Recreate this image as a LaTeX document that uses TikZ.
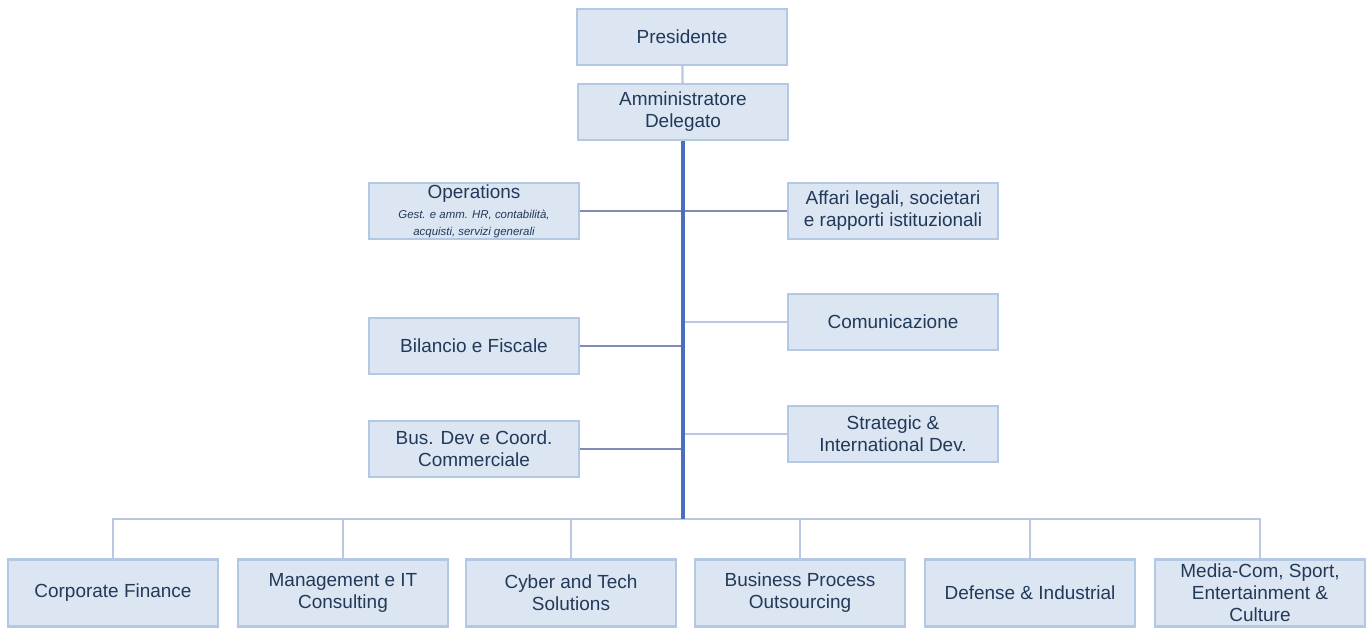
\documentclass[tikz,border=0pt]{standalone}
\usepackage{fontspec}
\setmainfont{Liberation Sans}
\usetikzlibrary{positioning}
\definecolor{boxfill}{HTML}{DCE6F2}
\definecolor{boxline}{HTML}{B3C8E3}
\definecolor{boxtext}{HTML}{22395A}
\definecolor{trunkline}{HTML}{4A6FBF}
\definecolor{darkline}{HTML}{7D8DB3}
\definecolor{lightline}{HTML}{B9C9E2}

\begin{document}
\begin{tikzpicture}[x=0.02cm, y=-0.02cm,
	unit/.style={draw=boxline, line width=1.2pt, fill=boxfill, text=boxtext,
		minimum width=4.2cm, minimum height=1.12cm, align=center, inner sep=1pt,
		font=\fontsize{10.8}{12.6}\selectfont},
	bu/.style={unit, minimum height=1.34cm},
	link/.style={draw=darkline, line width=1.1pt},
	lightlink/.style={draw=lightline, line width=1.3pt},
	trunk/.style={draw=trunkline, line width=1.8pt}]
	\useasboundingbox (0,0) rectangle (1370,628);
	% vertici
	\node[unit] (pres) at (682,37) {Presidente};
	\node[unit] (ad) at (683,112) {Amministratore\\Delegato};
	% staff
	\node[unit] (ops) at (474,211) {Operations\\[-1pt]{\fontsize{6.5}{7.5}\selectfont\itshape Gest. e amm. HR, contabilità,}\\[-3pt]{\fontsize{6.5}{7.5}\selectfont\itshape acquisti, servizi generali}};
	\node[unit] (leg) at (893,211) {Affari legali, societari\\e rapporti istituzionali};
	\node[unit] (bil) at (474,346) {Bilancio e Fiscale};
	\node[unit] (com) at (893,322) {Comunicazione};
	\node[unit] (bus) at (474,449) {Bus. Dev e Coord.\\Commerciale};
	\node[unit] (str) at (893,434) {Strategic \&\\International Dev.};
	% business unit
	\node[bu] (cf) at (113,593) {Corporate Finance};
	\node[bu] (mit) at (343,593) {Management e IT\\Consulting};
	\node[bu] (cyb) at (571,593) {Cyber and Tech\\Solutions};
	\node[bu] (bpo) at (800,593) {Business Process\\Outsourcing};
	\node[bu] (def) at (1030,593) {Defense \& Industrial};
	\node[bu] (med) at (1260,593) {Media-Com, Sport,\\Entertainment \&\\Culture};
	\coordinate (hub) at (683,519);
	% collegamenti
	\draw[lightlink] (pres) -- (ad);
	\draw[link] (ops.east) -- (leg.west);
	\draw[link] (bil.east) -- (bil.east -| hub);
	\draw[link] (bus.east) -- (bus.east -| hub);
	\draw[lightlink] (com.west) -- (com.west -| hub);
	\draw[lightlink] (str.west) -- (str.west -| hub);
	\foreach \u in {cf,mit,cyb,bpo,def,med}
		\draw[lightlink] (\u.north) |- (hub);
	\draw[trunk] (ad.south) -- (hub);
\end{tikzpicture}
\end{document}
